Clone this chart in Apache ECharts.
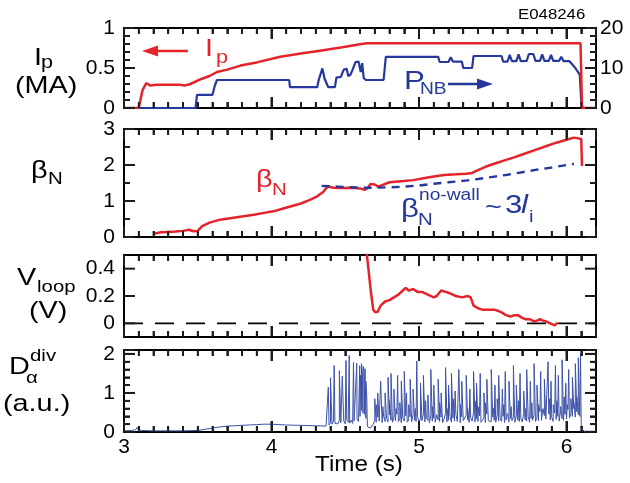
<!DOCTYPE html>
<html><head><meta charset="utf-8">
<script src="https://cdn.jsdelivr.net/npm/echarts@6/dist/echarts.min.js"></script>
<style>html,body{margin:0;padding:0;background:#fff}#c{width:630px;height:483px}</style>
</head><body><div id="c"></div>
<script>
// ---------------- data ----------------
const timeMin = 3, timeMax = 6.2;
const timeTickLabels = [3, 4, 5, 6];
const timeMinorTicks = [3.1,3.2,3.3,3.4,3.5,3.6,3.7,3.8,3.9,4.1,4.2,4.3,4.4,4.5,4.6,4.7,4.8,4.9,5.1,5.2,5.3,5.4,5.5,5.6,5.7,5.8,5.9,6.1];
const ipTicks = [0, 0.5, 1];
const ipMinorTicks = [0.1, 0.2, 0.3, 0.4, 0.6, 0.7, 0.8, 0.9];
const pnbTicks = [0, 10, 20];
const betaTicks = [0, 1, 2, 3];
const betaMinorTicks = [0.5, 1.5, 2.5];
const vloopTicks = [0, 0.2, 0.4];
const daTicks = [0, 1, 2];
const daMinorTicks = [0.2, 0.4, 0.6, 0.8, 1.2, 1.4, 1.6, 1.8];

// plasma current Ip (MA)
const ipTime  = [3.00, 3.10, 3.125, 3.15, 3.18, 3.22, 3.30, 3.38, 3.41, 3.45, 3.52, 3.58, 3.63, 3.70, 3.79, 3.90, 4.06, 4.20, 4.34, 4.48, 4.61, 4.65, 5.00, 5.50, 6.00, 6.095, 6.105, 6.20];
const ipValue = [0, 0, 0.22, 0.31, 0.28, 0.29, 0.29, 0.29, 0.28, 0.30, 0.36, 0.40, 0.45, 0.48, 0.53, 0.57, 0.64, 0.68, 0.72, 0.76, 0.80, 0.81, 0.81, 0.81, 0.81, 0.81, 0, 0];

// neutral beam power P_NB (MW)
const pnbTime  = [3.00, 3.485, 3.495, 3.60, 3.615, 3.63, 4.12, 4.125, 4.31, 4.32, 4.345, 4.36, 4.385, 4.43, 4.44, 4.47, 4.49, 4.51, 4.52, 4.535, 4.55, 4.57, 4.59, 4.605, 4.615, 4.625, 4.64, 4.76, 4.775, 5.13, 5.14, 5.20, 5.215, 5.23, 5.29, 5.30, 5.36, 5.37, 5.56, 5.57, 5.60, 5.615, 5.63, 5.66, 5.675, 5.69, 5.73, 5.745, 5.775, 5.79, 5.82, 5.835, 5.85, 5.88, 5.895, 5.91, 5.95, 5.965, 5.98, 6.02, 6.06, 6.09, 6.10, 6.11, 6.20];
const pnbValue = [0, 0, 3.3, 3.3, 5.5, 7.0, 7.0, 5.2, 5.2, 7.0, 9.9, 7.3, 5.2, 5.2, 7.6, 7.8, 9.6, 9.8, 8.0, 8.3, 9.6, 11.5, 11.6, 9.0, 11.2, 7.5, 7.0, 7.0, 12.8, 12.8, 11.5, 11.5, 12.7, 11.6, 11.6, 10.0, 10.0, 13.0, 13.0, 11.6, 11.6, 13.3, 11.7, 11.7, 13.4, 11.7, 11.8, 13.5, 13.5, 11.8, 11.8, 13.4, 11.8, 11.8, 13.3, 11.8, 11.8, 12.8, 11.7, 11.7, 10.0, 8.3, 1.5, 0, 0];

// normalized beta
const betaTime  = [3.21, 3.25, 3.30, 3.35, 3.40, 3.44, 3.47, 3.50, 3.53, 3.58, 3.64, 3.72, 3.80, 3.88, 3.95, 4.02, 4.08, 4.14, 4.20, 4.26, 4.31, 4.35, 4.38, 4.42, 4.48, 4.55, 4.60, 4.63, 4.65, 4.67, 4.70, 4.72, 4.75, 4.80, 4.88, 4.96, 5.04, 5.10, 5.17, 5.25, 5.32, 5.36, 5.40, 5.45, 5.52, 5.58, 5.65, 5.72, 5.79, 5.86, 5.93, 6.00, 6.05, 6.08, 6.10, 6.105];
const betaValue = [0.10, 0.13, 0.14, 0.15, 0.17, 0.20, 0.16, 0.17, 0.30, 0.40, 0.47, 0.52, 0.57, 0.62, 0.67, 0.72, 0.79, 0.86, 0.93, 1.03, 1.13, 1.25, 1.40, 1.37, 1.36, 1.37, 1.35, 1.31, 1.35, 1.47, 1.46, 1.40, 1.44, 1.52, 1.55, 1.58, 1.64, 1.68, 1.72, 1.74, 1.76, 1.78, 1.86, 1.95, 2.05, 2.13, 2.22, 2.32, 2.42, 2.52, 2.62, 2.70, 2.76, 2.74, 2.72, 1.97];

// no-wall beta limit ~ 3 li
const betaWallTime  = [4.34, 4.45, 4.55, 4.62, 4.70, 4.80, 4.90, 5.00, 5.10, 5.20, 5.30, 5.40, 5.50, 5.60, 5.70, 5.80, 5.90, 6.00, 6.05];
const betaWallValue = [1.42, 1.40, 1.38, 1.37, 1.37, 1.38, 1.40, 1.43, 1.48, 1.52, 1.56, 1.61, 1.67, 1.73, 1.80, 1.87, 1.93, 2.00, 2.03];

// loop voltage (V)
const vloopTime  = [4.635, 4.655, 4.675, 4.69, 4.705, 4.72, 4.74, 4.77, 4.80, 4.83, 4.86, 4.89, 4.91, 4.93, 4.96, 4.99, 5.02, 5.06, 5.10, 5.12, 5.15, 5.18, 5.21, 5.25, 5.29, 5.33, 5.35, 5.37, 5.40, 5.43, 5.47, 5.51, 5.54, 5.56, 5.59, 5.62, 5.65, 5.67, 5.70, 5.72, 5.75, 5.78, 5.80, 5.82, 5.84, 5.86, 5.89, 5.92, 5.94];
const vloopValue = [0.62, 0.42, 0.22, 0.10, 0.08, 0.085, 0.13, 0.16, 0.17, 0.19, 0.21, 0.24, 0.26, 0.24, 0.25, 0.23, 0.23, 0.21, 0.19, 0.20, 0.24, 0.23, 0.22, 0.20, 0.19, 0.20, 0.19, 0.13, 0.11, 0.10, 0.10, 0.10, 0.09, 0.08, 0.06, 0.05, 0.06, 0.06, 0.04, 0.03, 0.03, 0.015, 0.02, 0.03, 0.02, 0.015, 0.0, -0.015, 0.005];
const vloopZeroLevel = 0;

// divertor D-alpha (a.u.)
const daBaseTime  = [3.00, 3.05, 3.08, 3.09, 3.10, 3.12, 3.20, 3.30, 3.40, 3.50, 3.55, 3.60, 3.65, 3.70, 3.80, 3.90, 3.95, 4.00, 4.05, 4.10, 4.20, 4.30, 4.37];
const daBaseValue = [0.03, 0.04, 0.06, 0.12, 0.06, 0.04, 0.03, 0.03, 0.03, 0.04, 0.07, 0.10, 0.13, 0.15, 0.17, 0.19, 0.20, 0.20, 0.19, 0.18, 0.17, 0.16, 0.15];
const daNoiseStart = 4.38, daNoiseStep = 0.01;
const daNoiseValue = [
  0.15,0.18,0.24,0.20,0.28,0.22,0.26,0.21,0.30,0.24,0.22,0.28,0.21,0.32,0.25,0.23,0.30,0.22,0.28,0.24,0.33,0.27,0.40,0.55,0.48,0.45,0.35,0.14,0.11,0.10,0.12,
  0.20,0.30,0.25,0.38,0.28,0.32,0.24,0.41,0.27,0.35,
  0.26,0.44,0.30,0.25,0.38,0.29,0.46,0.27,0.33,0.24,
  0.36,0.28,0.42,0.25,0.31,0.39,0.26,0.45,0.30,0.27,
  0.40,0.25,0.34,0.29,0.47,0.26,0.36,0.30,0.24,0.42,
  0.28,0.35,0.25,0.44,0.31,0.27,0.38,0.24,0.33,0.48,
  0.26,0.30,0.40,0.25,0.36,0.28,0.45,0.27,0.32,0.24,
  0.39,0.29,0.26,0.43,0.31,0.25,0.37,0.28,0.50,0.26,
  0.33,0.27,0.41,0.25,0.30,0.36,0.24,0.46,0.29,0.34,
  0.26,0.38,0.30,0.25,0.44,0.28,0.35,0.27,0.40,0.24,
  0.31,0.47,0.26,0.34,0.29,0.39,0.25,0.43,0.30,0.27,
  0.36,0.26,0.48,0.31,0.28,0.40,0.25,0.35,0.30,0.45,
  0.27,0.38,0.29,0.52,0.30,0.26,0.42,0.33,0.28,0.46,
  0.31,0.37,0.27,0.49,0.32,0.40,0.28,0.55,0.34,0.30,
  0.45,0.33,0.58,0.36,0.48,0.40,0.60,0.38,0.52,0.45,
  0.40,0.10];
const daTailTime  = [6.11, 6.12, 6.15, 6.20];
const daTailValue = [0.05, 0.02, 0.02, 0.02];
// large ELM spikes
const elmTime = [4.385,4.40,4.425,4.46,4.48,4.505,4.527,4.556,4.578,4.598,4.604,4.61,4.616,4.622,4.628,4.634,4.64,4.646,
  4.70,4.72,4.74,4.77,4.79,4.81,4.83,4.855,4.88,4.90,4.915,4.94,4.96,4.985,5.01,5.03,5.06,5.08,5.10,5.13,5.15,5.18,5.20,5.22,5.245,5.27,5.29,5.32,5.345,5.37,5.39,5.415,5.44,5.46,5.49,5.515,5.54,5.565,5.585,5.61,5.64,5.66,5.685,5.71,5.73,5.755,5.78,5.80,5.825,5.85,5.875,5.895,5.925,5.945,5.97,5.995,6.015,6.04,6.06,6.08,6.095];
const elmPeak = [1.15,1.39,1.70,1.57,1.43,1.83,1.96,1.78,1.76,1.70,1.45,1.75,1.50,1.68,1.55,1.62,1.30,0.90,
  0.85,1.00,1.30,1.00,1.40,1.50,1.10,1.45,1.30,1.55,1.00,1.35,1.10,1.82,1.25,1.45,0.95,1.60,1.20,1.35,1.00,1.65,1.20,1.50,1.05,1.60,1.30,1.45,1.10,1.55,1.25,1.50,1.00,1.35,1.60,1.20,1.45,1.10,1.55,1.30,1.70,1.20,1.50,1.05,1.60,1.30,1.75,1.20,1.55,1.35,1.80,1.30,1.70,1.45,1.85,1.25,1.60,1.40,1.75,1.90,2.00];
// smaller spikes between ELMs
const minorElmTime = [4.71,4.755,4.80,4.845,4.87,4.93,4.975,5.045,5.09,5.14,5.19,5.235,5.28,5.33,5.38,5.40,5.45,5.505,5.53,5.575,5.625,5.675,5.72,5.765,5.81,5.84,5.885,5.91,5.935,5.96,5.985,6.005,6.03,6.05,6.07];
const minorElmPeak = [0.70,0.65,0.80,0.60,0.75,0.70,0.60,0.80,0.65,0.75,0.60,0.85,0.70,0.60,0.80,0.65,0.75,0.60,0.85,0.70,0.65,0.80,0.60,0.75,0.70,0.60,0.85,0.70,0.80,0.65,0.90,0.70,0.85,0.75,0.90];

// ---------------- build ----------------
function zip(xs, ys) { const n = Math.min(xs.length, ys.length); const o = []; for (let i = 0; i < n; i++) o.push([xs[i], ys[i]]); return o; }
const daPoints = [].concat(
  zip(daBaseTime, daBaseValue),
  daNoiseValue.map((v, i) => [+(daNoiseStart + i * daNoiseStep).toFixed(3), v]),
  zip(elmTime, elmPeak),
  zip(minorElmTime, minorElmPeak),
  zip(daTailTime, daTailValue)
).sort((a, b) => a[0] - b[0]);

const FONT = 'Liberation Sans';
const BLACK = '#000';
const TICK = '#1c1c1c';
const RED = '#e5232b';
const BLUE = '#26389b';
const DA_BLUE = '#3d52a8';
const LEFT = 124, WIDTH = 472;
const MAJOR_LEN = 11, MINOR_LEN = 6;
const grids = [
  {left: LEFT, top: 28, width: WIDTH, height: 80},
  {left: LEFT, top: 129, width: WIDTH, height: 108},
  {left: LEFT, top: 255, width: WIDTH, height: 82},
  {left: LEFT, top: 350, width: WIDTH, height: 82}
];
const yRanges = [[0, 1], [0, 3], [-0.1, 0.5], [0, 2.1]];
const panelYAxis = [0, 2, 4, 6];
const panelYTicks = [[ipTicks, ipMinorTicks], [betaTicks, betaMinorTicks], [vloopTicks, []], [daTicks, daMinorTicks]];

function onlyValues(list) {
  return function (v) { return list.some(u => Math.abs(u - v) < 1e-9) ? String(v) : ''; };
}
function shownLabel(list, margin) {
  return {show: true, fontSize: 21, fontFamily: FONT, color: BLACK, margin: margin, formatter: onlyValues(list)};
}
const nativeTick = {show: true, inside: true, length: MAJOR_LEN, lineStyle: {color: TICK, width: 2}};
function nativeMinor(n) { return {show: true, splitNumber: n, length: MINOR_LEN, lineStyle: {color: TICK, width: 1.8}}; }
function axisBase(o) {
  return Object.assign({
    type: 'value',
    axisLine: {show: true, onZero: false, lineStyle: {color: BLACK, width: 2}},
    axisTick: nativeTick,
    minorTick: {show: false},
    splitLine: {show: false},
    minorSplitLine: {show: false},
    axisLabel: {show: false}
  }, o);
}

const xAxes = [];
grids.forEach((g, gi) => {
  const common = {gridIndex: gi, min: timeMin, max: timeMax, interval: 1, minorTick: nativeMinor(10)};
  xAxes.push(axisBase(Object.assign({}, common, {
    position: 'bottom',
    axisLabel: gi === 3 ? shownLabel(timeTickLabels, 5) : {show: false}
  })));
  xAxes.push(axisBase(Object.assign({}, common, {position: 'top'})));
});

const yAxes = [
  axisBase({gridIndex: 0, position: 'left', min: 0, max: 1, interval: 0.5, minorTick: nativeMinor(5), axisLabel: shownLabel(ipTicks, 9)}),
  axisBase({gridIndex: 0, position: 'right', min: 0, max: 20, interval: 10, minorTick: nativeMinor(5), axisLabel: shownLabel(pnbTicks, 4)}),
  axisBase({gridIndex: 1, position: 'left', min: 0, max: 3, interval: 1, minorTick: nativeMinor(2), axisLabel: shownLabel(betaTicks, 9)}),
  axisBase({gridIndex: 1, position: 'right', min: 0, max: 3, interval: 1, minorTick: nativeMinor(2)}),
  axisBase({gridIndex: 2, position: 'left', min: -0.1, max: 0.5, interval: 0.1, axisTick: {show: false}, axisLabel: shownLabel(vloopTicks, 9)}),
  axisBase({gridIndex: 2, position: 'right', min: -0.1, max: 0.5, interval: 0.1, axisTick: {show: false}}),
  axisBase({gridIndex: 3, position: 'left', min: 0, max: 2.1, interval: 1, minorTick: nativeMinor(5), axisLabel: shownLabel(daTicks, 9)}),
  axisBase({gridIndex: 3, position: 'right', min: 0, max: 2.1, interval: 1, minorTick: nativeMinor(5)})
];

function lineSeries(xi, yi, data, color, width, type) {
  return {type: 'line', xAxisIndex: xi, yAxisIndex: yi, data: data, showSymbol: false, symbol: 'none',
    silent: true, z: 3, lineStyle: {color: color, width: width, type: type || 'solid'}, itemStyle: {color: color}};
}

const series = [
  lineSeries(0, 1, zip(pnbTime, pnbValue), BLUE, 2.2),
  lineSeries(0, 0, zip(ipTime, ipValue), RED, 2.5),
  lineSeries(2, 2, zip(betaTime, betaValue), RED, 2.5),
  lineSeries(2, 2, zip(betaWallTime, betaWallValue), BLUE, 2.4, [8, 6]),
  lineSeries(4, 4, [[timeMin, vloopZeroLevel], [timeMax, vloopZeroLevel]], BLACK, 1.8, [19, 12]),
  lineSeries(4, 4, zip(vloopTime, vloopValue), RED, 2.5),
  lineSeries(6, 6, daPoints, DA_BLUE, 1)
];

// ---------------- annotations ----------------
const SX = 1.2;
function txt(s, x, y, size, color, italic) {
  return {type: 'text', x: x, y: y, scaleX: SX, z: 100, silent: true,
    style: {text: s, font: (italic ? 'italic ' : '') + size + 'px "' + FONT + '"', fill: color,
      align: 'left', verticalAlign: 'middle'}};
}
const graphic = [
  txt('E048246', 518, 15, 14, BLACK),
  // panel titles
  txt('I', 34, 58, 24, BLACK), txt('p', 41, 63, 18, BLACK), txt('(MA)', 15, 86, 24, BLACK),
  txt('\u03b2', 31, 171, 24, BLACK), txt('N', 48, 179, 17, BLACK),
  txt('V', 17, 278, 24, BLACK), txt('loop', 37, 287, 17, BLACK), txt('(V)', 29, 311, 24, BLACK),
  txt('D', 9, 367, 24, BLACK), txt('\u03b1', 26, 378, 17, BLACK), txt('div', 30, 356, 17, BLACK), txt('(a.u.)', 3, 404, 24, BLACK),
  // x-axis title
  {type: 'text', x: 359, y: 465, scaleX: 1.1, z: 100, silent: true,
    style: {text: 'Time (s)', font: '22px "' + FONT + '"', fill: BLACK, align: 'center', verticalAlign: 'middle'}},
  // in-plot labels
  txt('I', 205, 49, 24, RED), txt('p', 216, 58, 18, RED),
  txt('P', 404, 82, 26, BLUE), txt('NB', 420, 90, 16, BLUE),
  txt('\u03b2', 256, 180, 24, RED), txt('N', 272, 190, 17, RED),
  txt('\u03b2', 401, 210, 26, BLUE), txt('N', 418, 220, 17, BLUE), txt('no-wall', 419, 196, 16, BLUE),
  txt('~', 485, 208, 24, BLUE), txt('3', 505, 206, 26, BLUE), txt('l', 521, 206, 26, BLUE, true), txt('i', 529, 217, 17, BLUE),
  // arrows
  {type: 'polyline', z: 100, silent: true, shape: {points: [[156, 51], [188, 51]]}, style: {stroke: RED, lineWidth: 2.5, fill: null}},
  {type: 'polygon', z: 100, silent: true, shape: {points: [[142, 51], [158, 45.5], [158, 56.5]]}, style: {fill: RED}},
  {type: 'polyline', z: 100, silent: true, shape: {points: [[448, 84], [481, 84]]}, style: {stroke: BLUE, lineWidth: 2.5, fill: null}},
  {type: 'polygon', z: 100, silent: true, shape: {points: [[493, 84], [477, 78.5], [477, 89.5]]}, style: {fill: BLUE}}
];

const chart = echarts.init(document.getElementById('c'));
try {
  chart.setOption({
    animation: false,
    backgroundColor: '#fff',
    grid: grids,
    xAxis: xAxes,
    yAxis: yAxes,
    series: series,
    graphic: graphic
  });
} catch (e) { console.error(e); }

// inward tick marks on all four sides of every panel, positioned through each panel's axis scales
const tickEls = [];
try {
  grids.forEach((g, gi) => {
    const finder = {gridIndex: gi};
    const xFinder = {xAxisIndex: 2 * gi}, yFinder = {yAxisIndex: panelYAxis[gi]};
    const y0 = yRanges[gi][0], y1 = yRanges[gi][1];
    const px = t => chart.convertToPixel(xFinder, t);
    const py = v => chart.convertToPixel(yFinder, v);
    const add = (x1, ya, x2, yb, major) => tickEls.push({type: 'line', z: 90, silent: true,
      shape: {x1: x1, y1: ya, x2: x2, y2: yb}, style: {stroke: TICK, lineWidth: major ? 2 : 1.8}});
    const yBot = py(y0), yTop = py(y1), xL = px(timeMin), xR = px(timeMax);
    const xTicks = timeTickLabels.map(t => [t, true]).concat(timeMinorTicks.map(t => [t, false]));
    xTicks.forEach(item => {
      const x = px(item[0]), major = item[1], L = major ? MAJOR_LEN : MINOR_LEN;
      if (!isFinite(x) || !isFinite(yBot) || !isFinite(yTop)) return;
      add(x, yBot, x, yBot - L, major);
      add(x, yTop, x, yTop + L, major);
    });
    const yTicks = panelYTicks[gi][0].map(v => [v, true]).concat(panelYTicks[gi][1].map(v => [v, false]));
    yTicks.forEach(item => {
      const y = py(item[0]), major = item[1], L = major ? MAJOR_LEN : MINOR_LEN;
      if (!isFinite(y) || !isFinite(xL) || !isFinite(xR)) return;
      add(xL, y, xL + L, y, major);
      add(xR, y, xR - L, y, major);
    });
  });
} catch (e) { console.error(e); }
try {
  if (tickEls.length) chart.setOption({graphic: graphic.concat(tickEls)});
} catch (e) { console.error(e); }
</script>
</body></html>
